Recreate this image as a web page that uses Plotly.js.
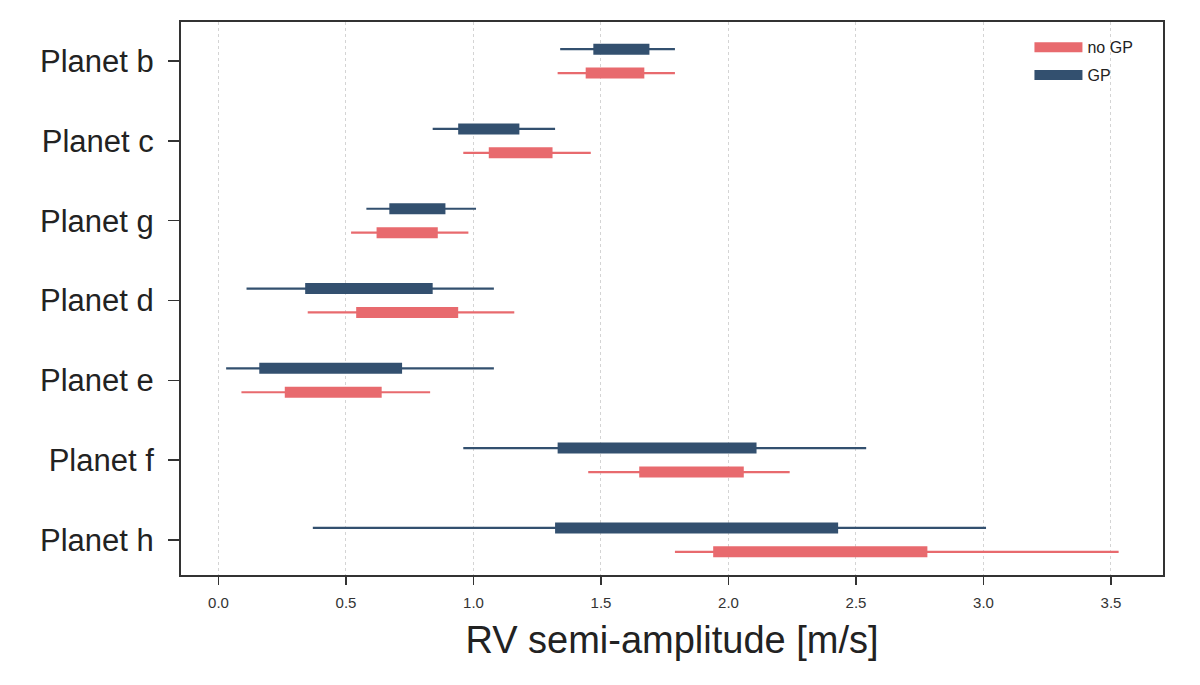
<!DOCTYPE html>
<html>
<head>
<meta charset="utf-8">
<script src="https://cdn.plot.ly/plotly-3.0.1.min.js"></script>
<style>html,body{margin:0;padding:0;background:#fff;}#chart{width:1200px;height:685px;}</style>
</head>
<body>
<div id="chart"></div>
<script>
// Planets, top to bottom
const planets = ['Planet b', 'Planet c', 'Planet g', 'Planet d', 'Planet e', 'Planet f', 'Planet h'];
const xTickVals = [0.0, 0.5, 1.0, 1.5, 2.0, 2.5, 3.0, 3.5];
const xTickText = ['0.0', '0.5', '1.0', '1.5', '2.0', '2.5', '3.0', '3.5'];

// GP fit: outer (thin) and inner (thick) intervals
const gpLo95 = [1.34, 0.84, 0.58, 0.11, 0.03, 0.96, 0.37];
const gpLo68 = [1.47, 0.94, 0.67, 0.34, 0.16, 1.33, 1.32];
const gpHi68 = [1.69, 1.18, 0.89, 0.84, 0.72, 2.11, 2.43];
const gpHi95 = [1.79, 1.32, 1.01, 1.08, 1.08, 2.54, 3.01];

// no-GP fit
const noGpLo95 = [1.33, 0.96, 0.52, 0.35, 0.09, 1.45, 1.79];
const noGpLo68 = [1.44, 1.06, 0.62, 0.54, 0.26, 1.65, 1.94];
const noGpHi68 = [1.67, 1.31, 0.86, 0.94, 0.64, 2.06, 2.78];
const noGpHi95 = [1.79, 1.46, 0.98, 1.16, 0.83, 2.24, 3.53];

const GP_COLOR = '#33506f';
const NOGP_COLOR = '#e86a6e';
const OFFSET = 0.15;

function segs(lo, hi, shift) {
  const x = [], y = [];
  for (let i = 0; i < lo.length; i++) {
    x.push(lo[i], hi[i], null);
    y.push(i + shift, i + shift, null);
  }
  return {x, y};
}

const nogpW = segs(noGpLo95, noGpHi95, OFFSET);
const nogpB = segs(noGpLo68, noGpHi68, OFFSET);
const gpW = segs(gpLo95, gpHi95, -OFFSET);
const gpB = segs(gpLo68, gpHi68, -OFFSET);

const traces = [
  {x: nogpW.x, y: nogpW.y, mode: 'lines', line: {color: NOGP_COLOR, width: 2.2}, showlegend: false, hoverinfo: 'skip'},
  {x: nogpB.x, y: nogpB.y, mode: 'lines', line: {color: NOGP_COLOR, width: 11}, name: 'no GP', legendgroup: 'a', showlegend: true},
  {x: gpW.x, y: gpW.y, mode: 'lines', line: {color: GP_COLOR, width: 2.2}, showlegend: false, hoverinfo: 'skip'},
  {x: gpB.x, y: gpB.y, mode: 'lines', line: {color: GP_COLOR, width: 11}, name: 'GP', legendgroup: 'b', showlegend: true}
];

const layout = {
  width: 1200, height: 685,
  margin: {l: 181, r: 37, t: 22, b: 110},
  paper_bgcolor: '#ffffff', plot_bgcolor: '#ffffff',
  font: {family: 'Liberation Sans, Arial, sans-serif', color: '#222'},
  showlegend: true,
  legend: {x: 0.864, y: 0.985, xanchor: 'left', yanchor: 'top', bgcolor: 'rgba(0,0,0,0)',
           font: {size: 16, color: '#222'}, traceorder: 'grouped', tracegroupgap: 4, itemwidth: 48},
  xaxis: {
    range: [-0.147, 3.704],
    tickvals: xTickVals, ticktext: xTickText,
    ticks: 'outside', ticklen: 8, tickwidth: 1.5, tickcolor: '#333',
    tickfont: {size: 15, color: '#333'}, ticklabelstandoff: 5,
    showgrid: true, gridcolor: '#d4d4d4', griddash: 'dot', gridwidth: 1,
    zeroline: false,
    showline: true, mirror: true, linecolor: '#333', linewidth: 2,
    title: {text: 'RV semi-amplitude [m/s]', font: {size: 38, color: '#222'}, standoff: 16}
  },
  yaxis: {
    range: [6.44, -0.49],
    tickvals: planets.map((_, i) => i), ticktext: planets,
    ticks: 'outside', ticklen: 11, tickwidth: 1.5, tickcolor: '#333',
    tickfont: {size: 31, color: '#222'}, ticklabelstandoff: 8,
    showgrid: false, zeroline: false,
    showline: true, mirror: true, linecolor: '#333', linewidth: 2
  }
};

Plotly.newPlot('chart', traces, layout, {staticPlot: true, displayModeBar: false});
</script>
</body>
</html>
